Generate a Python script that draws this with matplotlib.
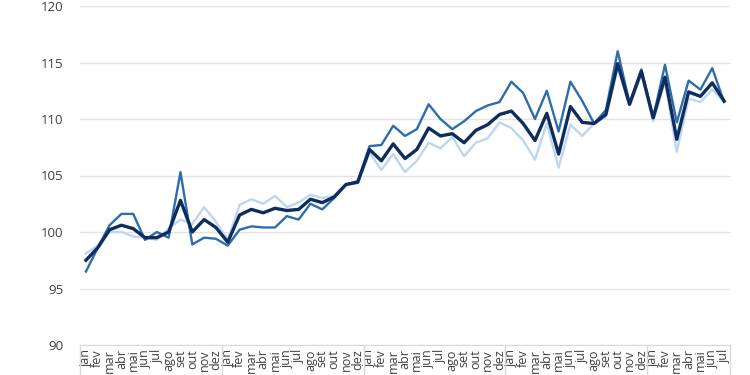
import matplotlib
matplotlib.use("Agg")
import matplotlib.pyplot as plt
import numpy as np

# month labels (4.5 years, jan .. jul)
months_pt = ["jan", "fev", "mar", "abr", "mai", "jun",
             "jul", "ago", "set", "out", "nov", "dez"]
labels = months_pt * 4 + months_pt[:7]

# series
serie_total = [97.5, 98.6, 100.2, 100.6, 100.3, 99.5, 99.5, 100.0, 102.8, 100.0,
               101.1, 100.4, 99.1, 101.5, 102.0, 101.7, 102.1, 101.9, 102.0, 102.9,
               102.6, 103.1, 104.2, 104.4, 107.3, 106.3, 107.8, 106.5, 107.3, 109.2,
               108.5, 108.7, 107.9, 109.0, 109.5, 110.4, 110.7, 109.6, 108.1, 110.5,
               106.9, 111.1, 109.7, 109.6, 110.4, 114.9, 111.3, 114.2, 110.1, 113.7,
               108.2, 112.4, 112.0, 113.2, 111.6]

serie_media = [96.5, 98.6, 100.6, 101.6, 101.6, 99.3, 100.0, 99.5, 105.3, 98.9,
               99.5, 99.4, 98.8, 100.2, 100.5, 100.4, 100.4, 101.4, 101.1, 102.5,
               102.0, 103.0, 104.2, 104.5, 107.6, 107.7, 109.4, 108.5, 109.1, 111.3,
               110.0, 109.1, 109.8, 110.7, 111.2, 111.5, 113.3, 112.3, 110.0, 112.5,
               108.9, 113.3, 111.6, 109.6, 110.8, 116.0, 111.4, 114.4, 110.1, 114.8,
               109.7, 113.4, 112.6, 114.5, 111.5]

serie_clara = [98.1, 98.8, 100.0, 100.0, 99.6, 99.5, 99.3, 100.3, 101.1, 100.7,
               102.2, 100.9, 99.3, 102.4, 102.9, 102.5, 103.2, 102.2, 102.6, 103.3,
               103.0, 103.2, 104.2, 104.5, 107.0, 105.5, 106.9, 105.3, 106.3, 107.9,
               107.4, 108.4, 106.7, 107.9, 108.3, 109.7, 109.2, 108.1, 106.4, 109.6,
               105.7, 109.5, 108.5, 109.6, 110.2, 114.5, 111.2, 114.0, 109.8, 113.3,
               107.1, 111.8, 111.5, 112.6, 111.5]

year_bounds = [-0.5, 11.5, 23.5, 35.5, 47.5, 54.5]

plt.rcParams['font.family'] = ['Open Sans', 'DejaVu Sans']

fig = plt.figure(figsize=(7.5, 3.75), dpi=100)
ax = fig.add_axes([0.1067, 0.08, 0.8666, 0.904])

x = np.arange(len(labels))
ax.plot(x, serie_clara, color='#BDD7EE', linewidth=1.7, zorder=2)
ax.plot(x, serie_media, color='#2E6DAD', linewidth=1.7, zorder=3)
ax.plot(x, serie_total, color='#0E2D5E', linewidth=2.4, zorder=4)

ax.set_ylim(90, 120)
ax.set_yticks(np.arange(90, 121, 5))
ax.set_xlim(-0.5, len(labels) - 0.5)
ax.set_xticks(x)
ax.set_xticklabels(labels, rotation=90, fontsize=9, color='#404040')
ax.set_xticks(year_bounds, minor=True)

ax.yaxis.grid(True, color='#E3E3E3', linewidth=1)
ax.set_axisbelow(True)
for side in ['top', 'left', 'right']:
    ax.spines[side].set_visible(False)
ax.spines['bottom'].set_color('#D9D9D9')

ax.tick_params(axis='y', length=0, pad=12, labelsize=9.5, labelcolor='#404040')
ax.tick_params(axis='x', which='major', length=0, pad=3)
ax.tick_params(axis='x', which='minor', length=30, width=1, color='#D9D9D9', direction='out')

fig.savefig('out.png', dpi=100)
